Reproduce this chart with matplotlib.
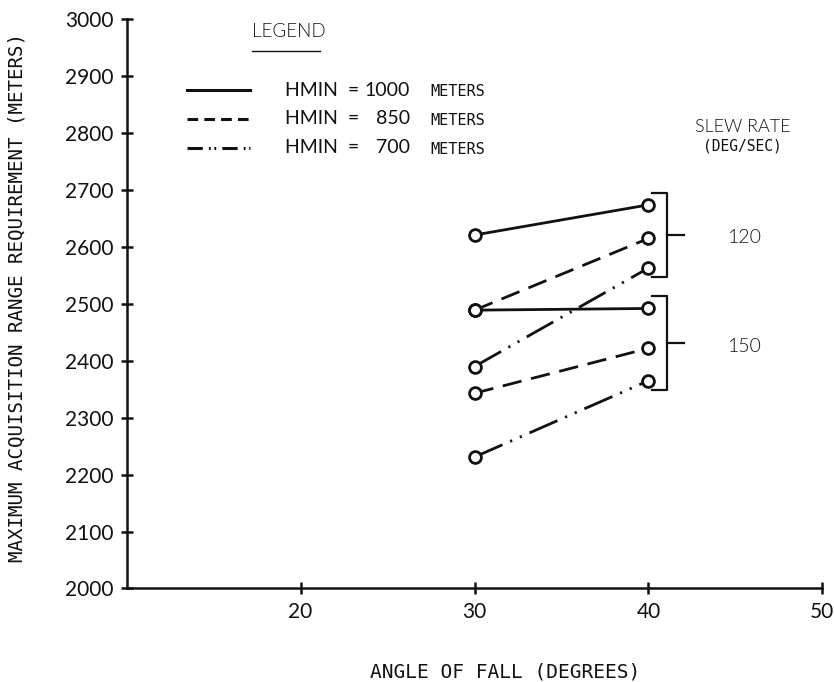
import matplotlib
matplotlib.use("Agg")
import matplotlib.pyplot as plt
from matplotlib import font_manager

# angle of fall (deg)
angles = [30, 40]

# max acquisition range (m), slew rate 120 deg/sec
r120_h1000 = [2621, 2674]
r120_h850 = [2489, 2615]
r120_h700 = [2390, 2563]

# slew rate 150 deg/sec
r150_h1000 = [2489, 2492]
r150_h850 = [2343, 2422]
r150_h700 = [2231, 2365]

hmin_labels = ["1000", "850", "700"]
slew_rates = ["120", "150"]

xticks = [20, 30, 40, 50]
yticks = list(range(2000, 3001, 100))


def pick_font(names):
    for n in names:
        try:
            font_manager.findfont(n, fallback_to_default=False)
            return n
        except Exception:
            pass
    return "DejaVu Sans"


thin = pick_font(["Lato", "Roboto", "DejaVu Sans"])
mono = "DejaVu Sans Mono"
W = 400

INK = "#111111"
styles = [
    dict(linestyle="-"),
    dict(linestyle=(0, (7, 3.5))),
    dict(linestyle=(0, (11, 3, 0.8, 3, 0.8, 3))),
]

fig = plt.figure(figsize=(8.34, 6.82), dpi=100)
ax = fig.add_axes([0.1519, 0.1371, 0.8341, 0.8346])
ax.set_xlim(10, 50)
ax.set_ylim(2000, 3000)

groups = [
    [r120_h1000, r120_h850, r120_h700],
    [r150_h1000, r150_h850, r150_h700],
]
for grp in groups:
    for vals, st in zip(grp, styles):
        ax.plot(angles, vals, color=INK, lw=2.0, marker="o", ms=8.5,
                mfc="white", mec=INK, mew=2.0, clip_on=False, zorder=3, **st)

# slew-rate brackets
for grp, lab in zip(groups, slew_rates):
    hi = max(v[1] for v in grp) + 21
    lo = min(v[1] for v in grp) - 16
    mid = (hi + lo) / 2
    ax.plot([40.2, 41.07, 41.07, 40.2], [hi, hi, lo, lo], color=INK, lw=1.6)
    ax.plot([41.07, 42.05], [mid, mid], color=INK, lw=1.6)
    ax.text(45.5, mid - 5, lab, ha="center", va="center", fontsize=14,
            family=thin, weight=300, color=INK)

ax.text(45.4, 2811, "SLEW RATE", ha="center", va="center", fontsize=13,
        family=thin, weight=300, color=INK)
ax.text(45.4, 2778, "(DEG/SEC)", ha="center", va="center", fontsize=10.5,
        family=mono, color=INK)

# legend
ax.text(17.2, 2979, "LEGEND", ha="left", va="center", fontsize=13.5,
        family=thin, weight=300, color=INK)
ax.plot([17.2, 21.1], [2945, 2945], color=INK, lw=1.0)
leg_y = [2875, 2825, 2774]
leg_styles = [
    dict(linestyle="-"),
    dict(linestyle=(0, (3.5, 2))),
    dict(linestyle=(0, (5, 2, 0.6, 1.2, 0.6, 2))),
]
for y, st, h in zip(leg_y, leg_styles, hmin_labels):
    ax.plot([13.46, 17.09], [y, y], color=INK, lw=2.2, **st)
    ax.text(19.1, y, "HMIN  =", ha="left", va="center", fontsize=14,
            family=thin, weight=W, color=INK)
    ax.text(26.3, y, h, ha="right", va="center", fontsize=14,
            family=thin, weight=W, color=INK)
    ax.text(27.44, y - 2, "METERS", ha="left", va="center", fontsize=11,
            family=mono, color=INK)

# axes styling
for s in ["top", "right"]:
    ax.spines[s].set_visible(False)
for s in ["left", "bottom"]:
    ax.spines[s].set_linewidth(1.8)
    ax.spines[s].set_color(INK)
ax.set_xticks(xticks)
ax.set_yticks(yticks)
ax.tick_params(direction="inout", length=9, width=1.8, color=INK,
               labelcolor=INK, pad=5)
for lbl in ax.get_xticklabels() + ax.get_yticklabels():
    lbl.set_family(thin)
    lbl.set_weight(W)
    lbl.set_fontsize(15)

fig.text(17 / 834, 1 - 298 / 682,
         "MAXIMUM ACQUISITION RANGE REQUIREMENT (METERS)",
         rotation=90, ha="center", va="center", fontsize=13.8,
         family=mono, color=INK)
fig.text(505 / 834, 1 - 672 / 682, "ANGLE OF FALL (DEGREES)",
         ha="center", va="center", fontsize=14, family=mono, color=INK)

fig.savefig("out.png", dpi=100)
